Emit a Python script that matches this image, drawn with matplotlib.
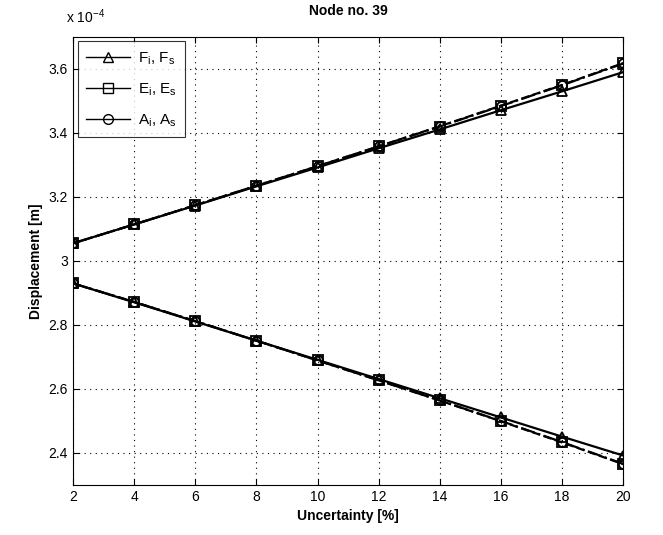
import numpy as np
import matplotlib.pyplot as plt
from matplotlib.lines import Line2D
from matplotlib.ticker import FormatStrFormatter

plt.rcParams['font.family'] = ['Liberation Sans', 'DejaVu Sans']
plt.rcParams['mathtext.fontset'] = 'custom'
plt.rcParams['mathtext.rm'] = 'Liberation Sans'

# uncertainty [%]
unc = [2, 4, 6, 8, 10, 12, 14, 16, 18, 20]

# displacement, in units of 1e-4 m
F_s = [3.055, 3.114, 3.173, 3.233, 3.292, 3.352, 3.411, 3.471, 3.530, 3.590]
F_i = [2.930, 2.871, 2.811, 2.751, 2.691, 2.631, 2.571, 2.511, 2.451, 2.392]
E_s = [3.055, 3.114, 3.174, 3.235, 3.296, 3.358, 3.420, 3.484, 3.549, 3.617]
E_i = [2.930, 2.872, 2.812, 2.751, 2.689, 2.627, 2.564, 2.500, 2.434, 2.366]
A_s = [3.055, 3.114, 3.174, 3.235, 3.296, 3.358, 3.421, 3.485, 3.550, 3.618]
A_i = [2.930, 2.872, 2.812, 2.751, 2.689, 2.627, 2.564, 2.499, 2.433, 2.365]

fig = plt.figure(figsize=(6.63, 5.35), dpi=100)
ax = fig.add_axes([0.110, 0.0935, 0.830, 0.8375])

mk = dict(color='k', lw=1.6, ms=6.5, mfc='none', mew=1.3)
ax.plot(unc, F_s, '-', marker='^', **mk)
ax.plot(unc, F_i, '-', marker='^', **mk)
ax.plot(unc, E_s, '-.', marker='s', **mk)
ax.plot(unc, E_i, '-.', marker='s', **mk)
ax.plot(unc, A_s, '--', marker='o', **mk)
ax.plot(unc, A_i, '--', marker='o', **mk)

ax.set_xlim(2, 20)
ax.set_ylim(2.3, 3.7)
ax.set_xticks(unc)
ax.set_yticks([2.4, 2.6, 2.8, 3.0, 3.2, 3.4, 3.6])
ax.yaxis.set_major_formatter(FormatStrFormatter('%g'))
ax.tick_params(direction='in', top=True, right=True, labelsize=10, length=4)
ax.grid(True, color='k', linestyle=(0, (1, 4)), linewidth=0.8)
for s in ax.spines.values():
    s.set_linewidth(0.8)

ax.set_title('Node no. 39', fontsize=10, fontweight='bold', pad=16)
ax.set_xlabel('Uncertainty [%]', fontsize=10, fontweight='bold')
ax.set_ylabel('Displacement [m]', fontsize=10, fontweight='bold')
ax.text(-0.013, 1.03, r'x 10$^{\mathrm{-4}}$', transform=ax.transAxes, fontsize=10)

handles = [Line2D([], [], color='k', lw=1, marker=m, ms=7, mfc='none', mew=1)
           for m in ['^', 's', 'o']]
labels = [r'F$_\mathrm{i}$, F$_\mathrm{s}$', r'E$_\mathrm{i}$, E$_\mathrm{s}$',
          r'A$_\mathrm{i}$, A$_\mathrm{s}$']
leg = ax.legend(handles, labels, loc='upper left', fontsize=11, frameon=True,
                fancybox=False, edgecolor='k', handlelength=2.9,
                borderaxespad=0.3, labelspacing=0.95, borderpad=0.55,
                handletextpad=0.5)
leg.get_frame().set_linewidth(0.8)

fig.savefig('out.png', dpi=100)
